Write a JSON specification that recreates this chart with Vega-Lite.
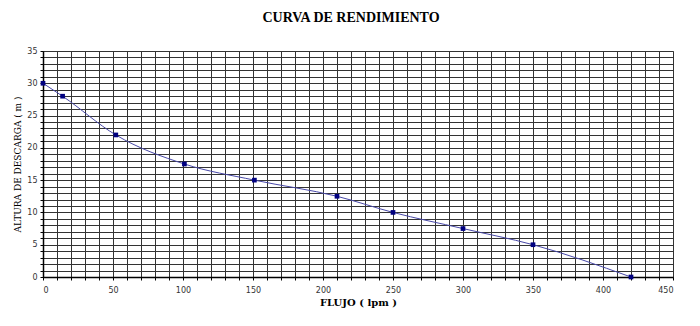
{
  "$schema": "https://vega.github.io/schema/vega-lite/v6.json",
  "width": 630,
  "height": 226,
  "padding": {"left": 13, "top": 11, "right": 20, "bottom": 5},
  "background": "white",
  "title": {"text": "CURVA DE RENDIMIENTO", "font": "Liberation Serif", "fontSize": 14, "fontWeight": "bold", "color": "black", "offset": 22, "dx": -7},
  "data": {"values": [
    {"flujo": 0, "altura": 30},
    {"flujo": 14, "altura": 28},
    {"flujo": 52, "altura": 22},
    {"flujo": 101, "altura": 17.5},
    {"flujo": 151, "altura": 15},
    {"flujo": 210, "altura": 12.5},
    {"flujo": 250, "altura": 10},
    {"flujo": 300, "altura": 7.5},
    {"flujo": 350, "altura": 5},
    {"flujo": 420, "altura": 0}
  ]},
  "encoding": {
    "x": {"field": "flujo", "type": "quantitative", "scale": {"domain": [0, 450], "nice": false},
      "axis": {"title": "FLUJO ( lpm )", "titleFont": "DejaVu Serif", "titleFontSize": 10, "titleFontWeight": "bold", "titleColor": "black", "titlePadding": 3,
        "values": [0,10,20,30,40,50,60,70,80,90,100,110,120,130,140,150,160,170,180,190,200,210,220,230,240,250,260,270,280,290,300,310,320,330,340,350,360,370,380,390,400,410,420,430,440,450],
        "labelExpr": "datum.value % 50 == 0 ? datum.label : ''",
        "labelFont": "DejaVu Sans", "labelFontSize": 8, "labelColor": "#333", "labelPadding": 6,
        "tickSize": 3, "tickColor": "black", "domainColor": "black", "domainWidth": 1.5,
        "gridColor": "#333", "gridOpacity": 1, "gridWidth": 1}},
    "y": {"field": "altura", "type": "quantitative", "scale": {"domain": [0, 35], "nice": false},
      "axis": {"title": "ALTURA DE DESCARGA ( m )", "titleFont": "DejaVu Serif", "titleFontSize": 9, "titleFontWeight": "normal", "titleColor": "black", "titlePadding": 4,
        "values": [0,1,2,3,4,5,6,7,8,9,10,11,12,13,14,15,16,17,18,19,20,21,22,23,24,25,26,27,28,29,30,31,32,33,34,35],
        "labelExpr": "datum.value % 5 == 0 ? datum.label : ''",
        "labelFont": "DejaVu Sans", "labelFontSize": 8, "labelColor": "#333", "labelPadding": 3,
        "tickSize": 3, "tickColor": "black", "domainColor": "black", "domainWidth": 1.5,
        "gridColor": "#333", "gridOpacity": 1, "gridWidth": 1}}
  },
  "layer": [
    {"mark": {"type": "line", "interpolate": "monotone", "color": "#4848a8", "strokeWidth": 1}},
    {"mark": {"type": "square", "color": "#000080", "opacity": 1, "filled": true, "size": 22}}
  ],
  "config": {"view": {"stroke": "#888", "strokeWidth": 1}}
}
